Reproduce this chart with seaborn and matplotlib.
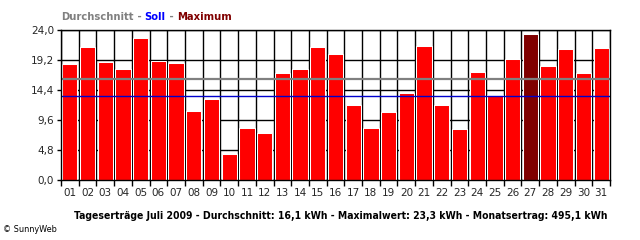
import matplotlib
matplotlib.use("Agg")
import matplotlib.pyplot as plt
import seaborn as sns
import numpy as np
import pandas as pd

days = [f"{i:02d}" for i in range(1, 32)]
values = [18.6, 21.3, 18.9, 17.8, 22.8, 19.1, 18.8, 11.1, 13.0, 4.1, 8.4, 7.6, 17.2, 17.8, 21.3,
          20.2, 12.0, 8.4, 10.9, 14.0, 21.5, 12.0, 8.2, 17.3, 13.6, 19.4, 23.3, 18.3, 20.9, 17.2, 21.2]
average = 16.1
target = 13.5
yticks = [0.0, 4.8, 9.6, 14.4, 19.2, 24.0]
ytick_labels = ["0,0", "4,8", "9,6", "14,4", "19,2", "24,0"]
footer = "Tageserträge Juli 2009 - Durchschnitt: 16,1 kWh - Maximalwert: 23,3 kWh - Monatsertrag: 495,1 kWh"

sns.set_theme(style="white")
plt.rcParams['font.family'] = ['DejaVu Sans']

df = pd.DataFrame({"day": days, "value": values})
maxv = max(values)
df["kind"] = ["max" if v == maxv else "normal" for v in values]

fig = plt.figure(figsize=(6.4, 2.4), dpi=100)
ax = fig.add_axes([61/640, 1-180/240, (610-61)/640, 150/240])

sns.barplot(data=df, x="day", y="value", hue="kind", palette={"normal": "#FF0000", "max": "#800000"},
            width=0.86, dodge=False, legend=False, ax=ax, saturation=1, zorder=3,
            edgecolor="white", linewidth=0.75)

ax.set_xlim(-0.5, 30.5)
ax.set_ylim(0, 24)
ax.set_yticks(yticks)
ax.set_yticklabels(ytick_labels, fontsize=7.5)
ax.set_xticks(range(31))
ax.set_xticklabels(days, fontsize=7.5)
ax.set_xticks(np.arange(-0.5, 31, 1), minor=True)
ax.tick_params(axis="x", which="major", length=0, pad=6)
ax.tick_params(axis="x", which="minor", length=4, width=1, color="black", direction="out", bottom=True)
ax.tick_params(axis="y", which="major", length=3, width=1, color="black", direction="out", left=True, pad=2)
ax.grid(False)
ax.xaxis.grid(True, which="minor", color="black", linewidth=1)
ax.yaxis.grid(True, which="major", color="black", linewidth=1)
ax.set_axisbelow(True)
for s in ax.spines.values():
    s.set_color("black")
    s.set_linewidth(1)
    s.set_zorder(6)
ax.set_xlabel("")
ax.set_ylabel("")

ax.axhline(average, color="#808080", linewidth=1.6, zorder=5)
ax.axhline(target, color="#0000CC", linewidth=1, zorder=5)

# colored title
fig.canvas.draw()
renderer = fig.canvas.get_renderer()
x = 61/640
parts = [("Durchschnitt", "#808080"), (" - ", "#808080"), ("Soll", "#0000FF"), (" - ", "#808080"), ("Maximum", "#800000")]
for txt, col in parts:
    t = fig.text(x, 1-17/240, txt, color=col, fontsize=8, fontweight="bold", va="center", ha="left",
                 fontstretch="condensed")
    bb = t.get_window_extent(renderer=renderer)
    x += bb.width / 640

fig.text(341/640, 1-216/240, footer, fontsize=7.5, fontweight="bold", ha="center", va="center", color="black",
         fontstretch="condensed")
fig.text(3/640, 1-229/240, "© SunnyWeb", fontsize=6.5, ha="left", va="center", color="black",
         fontstretch="condensed")

fig.savefig("out.png", dpi=100)
